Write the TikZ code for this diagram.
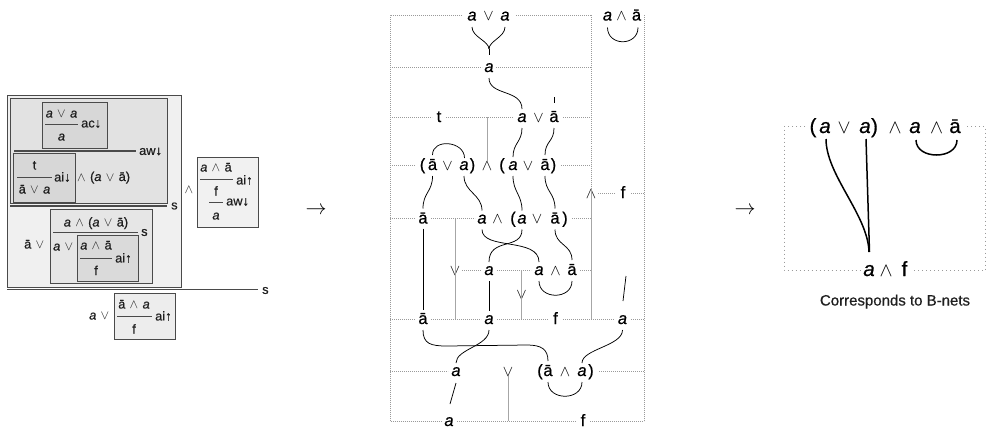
\RequirePackage{fix-cm}
\documentclass[tikz,border=0pt]{standalone}
\usepackage{fontspec}
\setmainfont{Liberation Sans}[FakeBold=0.6]
\usetikzlibrary{calc}

% atoms and connectives
\newcommand{\va}{\textit{a}}
\newcommand{\vb}{ā}
\newcommand{\symor}{$\vee$}
\newcommand{\symand}{$\wedge$}
\newcommand{\opor}{\hspace{0.34em}$\vee$\hspace{0.34em}}
\newcommand{\opand}{\hspace{0.34em}$\wedge$\hspace{0.34em}}

\definecolor{boxline}{HTML}{4A4A4A}
\definecolor{fillO}{HTML}{F0F0F0}
\definecolor{fillA}{HTML}{E2E2E2}
\definecolor{fillIn}{HTML}{D7D7D7}
\definecolor{fillC}{HTML}{E6E6E6}
\definecolor{fillD}{HTML}{DADADA}
\definecolor{fillE}{HTML}{EDEDED}
\definecolor{fillF}{HTML}{F1F1F1}
\definecolor{gridgray}{HTML}{9A9A9A}
\definecolor{spinegray}{HTML}{A6A6A6}

\tikzset{
  lbox/.style={draw=boxline, line width=0.8pt},
  ltok/.style={inner sep=0pt, text=black!88, font=\fontsize{12.8}{12.8}\selectfont},
  rulthin/.style={draw=boxline, line width=0.8pt},
  rulthick/.style={draw=boxline, line width=1.3pt},
  mtok/.style={inner sep=0pt, anchor=base, font=\fontsize{16.5}{16.5}\selectfont},
  msym/.style={mtok, font=\fontsize{15.5}{15.5}\selectfont},
  rtok/.style={inner sep=0pt, anchor=base, font=\fontsize{20.5}{20.5}\selectfont},
  rsym/.style={rtok, font=\fontsize{19.5}{19.5}\selectfont},
  griddot/.style={draw=gridgray, line width=0.6pt, dash pattern=on 0.8pt off 1.2pt},
  spine/.style={draw=spinegray, line width=0.6pt},
  conn/.style={draw=black, line width=0.75pt},
  bnet/.style={draw=black, line width=1.5pt},
  bgrid/.style={draw=gridgray, line width=0.8pt, dash pattern=on 0.9pt off 3.1pt},
}

\begin{document}
\begin{tikzpicture}[x=1pt,y=-1pt]
\useasboundingbox (0,0) rectangle (993,428);

% ================= open deduction derivation =================
\filldraw[lbox, fill=fillO] (7,95) rectangle (181,287);
\filldraw[lbox, fill=fillA] (10,98) rectangle (167,203);
\filldraw[lbox, fill=fillIn] (42,102) rectangle (107,148);
\filldraw[lbox, fill=fillIn] (13,153) rectangle (75,202);
\filldraw[lbox, fill=fillC] (50,209) rectangle (152,283);
\filldraw[lbox, fill=fillD] (77,235) rectangle (138,281);
\filldraw[lbox, fill=fillE] (114,293) rectangle (175,339);
\filldraw[lbox, fill=fillF] (197,157) rectangle (258,227);

% contraction box
\node[ltok, anchor=base] (acnum) at (61.5,117.5) {\va\opor\va};
\draw[rulthin] (45,124) -- (78,124);
\node[ltok, anchor=west] (aclab) at (81,124) {ac↓};
\node[ltok, anchor=base] (acden) at (61.5,140.5) {\va};

% weakening rule
\draw[rulthick] (14,151) -- (136,151);
\node[ltok, anchor=west] (awlab) at (139,151.5) {aw↓};

% interaction box
\node[ltok, anchor=base] (ainum) at (34.5,169.5) {t};
\draw[rulthin] (17,177) -- (52,177);
\node[ltok, anchor=west] (ailab) at (54,177) {ai↓};
\node[ltok, anchor=base] (aiden) at (34.5,193.5) {\vb\opor\va};
\node[ltok, anchor=base west] (aiand) at (77,181) {\symand\hspace{0.34em}(\va\opor\vb)};

% switch below the upper box
\draw[rulthick] (10,206) -- (167,206);
\node[ltok, anchor=west] (slabA) at (171,206) {s};

% lower part of the outer box
\node[ltok, anchor=base west] (lorpre) at (24,248.5) {\vb\hspace{0.34em}\symor};
\node[ltok, anchor=base] (snum) at (96,226.5) {\va\opand(\va\opor\vb)};
\draw[rulthin] (53,232.5) -- (138,232.5);
\node[ltok, anchor=west] (slabC) at (141,232.5) {s};
\node[ltok, anchor=base west] (aorpre) at (53,250.5) {\va\hspace{0.34em}\symor};
\node[ltok, anchor=base] (dnum) at (96,249.5) {\va\opand\vb};
\draw[rulthin] (80,258) -- (112,258);
\node[ltok, anchor=west] (dlab) at (115,258) {ai↑};
\node[ltok, anchor=base] (dden) at (96,275) {f};

% outer switch
\draw[rulthick] (7,289.5) -- (258,289.5);
\node[ltok, anchor=west] (slabO) at (262,290.5) {s};

% bottom box
\node[ltok, anchor=base west] (borpre) at (89,319.5) {\va\hspace{0.34em}\symor};
\node[ltok, anchor=base] (enum) at (134,308.5) {\vb\opand\va};
\draw[rulthin] (117,316) -- (152,316);
\node[ltok, anchor=west] (elab) at (155,316) {ai↑};
\node[ltok, anchor=base] (eden) at (134,333.5) {f};

% right box
\node[ltok] (fand) at (189,190) {\symand};
\node[ltok, anchor=base] (fnum) at (216,171.5) {\va\opand\vb};
\draw[rulthin] (200,179.5) -- (233,179.5);
\node[ltok, anchor=west] (flab1) at (236,180) {ai↑};
\node[ltok, anchor=base] (fmid) at (216,195.5) {f};
\draw[rulthin] (209,202) -- (223,202);
\node[ltok, anchor=west] (flab2) at (226,202) {aw↓};
\node[ltok, anchor=base] (fden) at (216,219.5) {\va};

% arrows between the three views
\node[inner sep=0pt, font=\fontsize{21}{21}\selectfont] (arrA) at (316,211) {$\rightarrow$};
\node[inner sep=0pt, font=\fontsize{21}{21}\selectfont] (arrB) at (745,211) {$\rightarrow$};

% ================= atomic flow on the structure grid =================
\coordinate (g0) at (390,15.5);
\coordinate (g2) at (390,117);
\coordinate (g4) at (390,218.5);
\coordinate (g5) at (390,270);
\coordinate (g6) at (390,319);
\coordinate (g8) at (390,421);

% dotted grid
\draw[griddot] (462,15.5) -- (390,15.5) -- (390,421) -- (441,421);
\draw[griddot] (516,15.5) -- (591,15.5);
\draw[griddot] (644,15.5) -- (644,421);
\draw[griddot] (390,67) -- (482,67);
\draw[griddot] (496,67) -- (591,67);
\draw[griddot] (390,117) -- (432,117);
\draw[griddot] (446,117) -- (513,117);
\draw[griddot] (563,117) -- (591,117);
\draw[griddot] (390,165) -- (415,165);
\draw[griddot] (561,165) -- (591,165);
\draw[griddot] (598,193) -- (615,193);
\draw[griddot] (631,193) -- (644,193);
\draw[griddot] (390,218.5) -- (415,218.5);
\draw[griddot] (431,218.5) -- (475,218.5);
\draw[griddot] (572,218.5) -- (591,218.5);
\draw[griddot] (462,270) -- (481,270);
\draw[griddot] (497,270) -- (531,270);
\draw[griddot] (580,270) -- (591,270);
\draw[griddot] (390,319) -- (415,319);
\draw[griddot] (431,319) -- (481,319);
\draw[griddot] (497,319) -- (548,319);
\draw[griddot] (563,319) -- (614,319);
\draw[griddot] (631,319) -- (644,319);
\draw[griddot] (390,371) -- (448,371);
\draw[griddot] (599,371) -- (644,371);
\draw[griddot] (457,421) -- (576,421);
\draw[griddot] (590,421) -- (644,421);

% row 0
\node[mtok] (m0a1) at (472,20.5) {\va};
\node[msym] (m0o) at (488.5,20.5) {\symor};
\node[mtok] (m0a2) at (505,20.5) {\va};
\node[mtok] (m0c1) at (607.5,20.5) {\va};
\node[msym] (m0n) at (621.5,20.5) {\symand};
\node[mtok] (m0c2) at (636.5,20.5) {\vb};
% row 1
\node[mtok] (m1a) at (489,72) {\va};
% row 2
\node[mtok] (m2t) at (439,122) {t};
\node[mtok] (m2a) at (522,122) {\va};
\node[msym] (m2o) at (538.5,122) {\symor};
\node[mtok] (m2b) at (554,122) {\vb};
% row 3
\node[mtok] (m3p1) at (422.5,170) {(};
\node[mtok] (m3b) at (432.5,170) {\vb};
\node[msym] (m3o1) at (447.5,170) {\symor};
\node[mtok] (m3a) at (464,170) {\va};
\node[mtok] (m3p2) at (472.5,170) {)};
\node[msym] (m3n) at (487,170) {\symand};
\node[mtok] (m3p3) at (502,170) {(};
\node[mtok] (m3c) at (513,170) {\va};
\node[msym] (m3o2) at (528,170) {\symor};
\node[mtok] (m3d) at (545,170) {\vb};
\node[mtok] (m3p4) at (553.5,170) {)};
% row between 3 and 4
\node[msym] (m35n) at (591,198) {\symand};
\node[mtok] (m35f) at (623,198) {f};
% row 4
\node[mtok] (m4b) at (423,223.5) {\vb};
\node[mtok] (m4a) at (482,223.5) {\va};
\node[msym] (m4n) at (497.5,223.5) {\symand};
\node[mtok] (m4p1) at (513,223.5) {(};
\node[mtok] (m4c) at (522,223.5) {\va};
\node[msym] (m4o) at (537,223.5) {\symor};
\node[mtok] (m4d) at (555,223.5) {\vb};
\node[mtok] (m4p2) at (565,223.5) {)};
% row 5
\node[msym] (m5o) at (455,275) {\symor};
\node[mtok] (m5a) at (489,275) {\va};
\node[mtok] (m5c) at (539,275) {\va};
\node[msym] (m5n) at (555.5,275) {\symand};
\node[mtok] (m5d) at (572,275) {\vb};
\node[msym] (m55o) at (521.5,299) {\symor};
% row 6
\node[mtok] (m6b) at (423,324) {\vb};
\node[mtok] (m6a) at (489,324) {\va};
\node[mtok] (m6f) at (555.5,324) {f};
\node[mtok] (m6c) at (622.5,324) {\va};
% row 7
\node[mtok] (m7a) at (456,376) {\va};
\node[msym] (m7o) at (508,376) {\symor};
\node[mtok] (m7p1) at (540,376) {(};
\node[mtok] (m7b) at (548,376) {\vb};
\node[msym] (m7n) at (565,376) {\symand};
\node[mtok] (m7c) at (582,376) {\va};
\node[mtok] (m7p2) at (591,376) {)};
% row 8
\node[mtok] (m8a) at (449,426) {\va};
\node[mtok] (m8f) at (583,426) {f};

% structure spines
\draw[spine] (m3n.north |- g2) -- (m3n.north);
\draw[griddot] (m35n.north |- g0) -- (m35n.north);
\draw[spine] (m35n.north) -- (m35n.north |- g6);
\draw[spine] (m5o |- g4) -- (m5o |- g6);
\draw[spine] (m55o |- g5) -- (m55o |- g6);
\draw[spine] (m7o.south) -- (m7o.south |- g8);

% flow edges
\coordinate (m0j) at ($(m1a.base)+(0,-23)$);
\draw[conn] ($(m0a1.base)+(0,6.5)$) .. controls +(0,10) and +(0,-8) .. (m0j);
\draw[conn] ($(m0a2.base)+(0,6.5)$) .. controls +(0,10) and +(0,-8) .. (m0j);
\draw[conn] (m0j) -- ($(m1a.base)+(0,-17)$);
\draw[conn] ($(m0c1.base)+(0,7)$) .. controls +(0,19) and +(0,19) .. ($(m0c2.base)+(1.5,7)$);
\draw[conn] ($(m1a.base)+(0,6)$) .. controls +(0,18) and +(0,-20) .. ($(m2a.base)+(0,-13)$);
\draw[conn] ($(m2b.base)+(0,-25)$) -- ($(m2b.base)+(0,-19)$);
\draw[conn] ($(m2a.base)+(0,6)$) .. controls +(0,14) and +(0,-14) .. ($(m3c.base)+(0,-13)$);
\draw[conn] ($(m2b.base)+(0,6)$) .. controls +(0,14) and +(0,-14) .. ($(m3d.base)+(0,-15)$);
\draw[conn] ($(m3b.base)+(0,-15)$) .. controls +(0,-17) and +(0,-17) .. ($(m3a.base)+(0.5,-12)$);
\draw[conn] ($(m3b.base)+(0,6)$) .. controls +(0,16) and +(0,-16) .. ($(m4b.base)+(0,-15)$);
\draw[conn] ($(m3a.base)+(0,6)$) .. controls +(0,16) and +(0,-16) .. ($(m4a.base)+(0,-13)$);
\draw[conn] ($(m3c.base)+(0,6)$) .. controls +(0,16) and +(0,-16) .. ($(m4c.base)+(0,-13)$);
\draw[conn] ($(m3d.base)+(0,6)$) .. controls +(0,16) and +(0,-16) .. ($(m4d.base)+(0,-15)$);
\draw[conn] ($(m4b.base)+(0,5)$) -- ($(m6b.base)+(0,-14)$);
\draw[conn] ($(m4a.base)+(0,6)$) .. controls +(0,21) and +(0,-25) .. ($(m5c.base)+(0,-13)$);
\draw[conn] ($(m4c.base)+(0,6)$) .. controls +(0,21) and +(0,-25) .. ($(m5a.base)+(0,-13)$);
\draw[conn] ($(m4d.base)+(0,6)$) .. controls +(0,16) and +(0,-16) .. ($(m5d.base)+(0,-15)$);
\draw[conn] ($(m5c.base)+(0,6)$) .. controls +(0,19) and +(0,19) .. ($(m5d.base)+(0,6)$);
\draw[conn] ($(m5a.base)+(0,6)$) -- ($(m6a.base)+(0,-13)$);
\draw[conn] ($(m6c.base)+(3.5,-48)$) -- ($(m6c.base)+(0.5,-23)$);
\coordinate (w1) at (447,346);
\coordinate (w2) at (527,345);
\draw[conn] ($(m6b.base)+(0,6)$) .. controls +(0,14) and +(-16,0) .. (w1) -- (w2)
            .. controls +(14,0) and +(0,-12) .. ($(m7b.base)+(0,-15)$);
\draw[conn] ($(m6a.base)+(0,6)$) .. controls +(0,16) and +(0,-14) .. ($(m7a.base)+(0,-13)$);
\draw[conn] ($(m6c.base)+(0,6)$) .. controls +(0,16) and +(0,-14) .. ($(m7c.base)+(0,-13)$);
\draw[conn] ($(m7b.base)+(0,6)$) .. controls +(0,19) and +(0,19) .. ($(m7c.base)+(0,6)$);
\draw[conn] ($(m7a.base)+(0,7)$) -- ($(m8a.base)+(1,-22)$);

% ================= B-net =================
\draw[bgrid] (805,126.5) -- (784,126.5) -- (784,270) -- (860,270);
\draw[bgrid] (967,126.5) -- (985,126.5) -- (985,270) -- (914,270);

\node[rtok] (r0p1) at (813,133) {(};
\node[rtok] (r0a) at (825,133) {\va};
\node[rsym] (r0o) at (844,133) {\symor};
\node[rtok] (r0b) at (865,133) {\va};
\node[rtok] (r0p2) at (874.5,133) {)};
\node[rsym] (r0n1) at (895,133) {\symand};
\node[rtok] (r0c) at (915,133) {\va};
\node[rsym] (r0n2) at (936.5,133) {\symand};
\node[rtok] (r0d) at (955,133) {\vb};
\node[rtok] (r1a) at (869,276) {\va};
\node[rsym] (r1n) at (886,276) {\symand};
\node[rtok] (r1f) at (904.5,276) {f};

\draw[bnet] ($(r0a.base)+(1,6)$) .. controls +(0,36) and +(-1,-37) .. ($(r1a.base)+(0,-24)$);
\draw[bnet] ($(r0b.base)+(1,6)$) -- ($(r1a.base)+(0.5,-24)$);
\draw[bnet] ($(r0c.base)+(1,7)$) .. controls +(0,20) and +(0,20) .. ($(r0d.base)+(2,7)$);

\node[inner sep=0pt, anchor=base, text=black!88, font=\fontsize{15}{15}\selectfont] (cap) at (895,305.5) {Corresponds to B-nets};
\end{tikzpicture}
\end{document}
